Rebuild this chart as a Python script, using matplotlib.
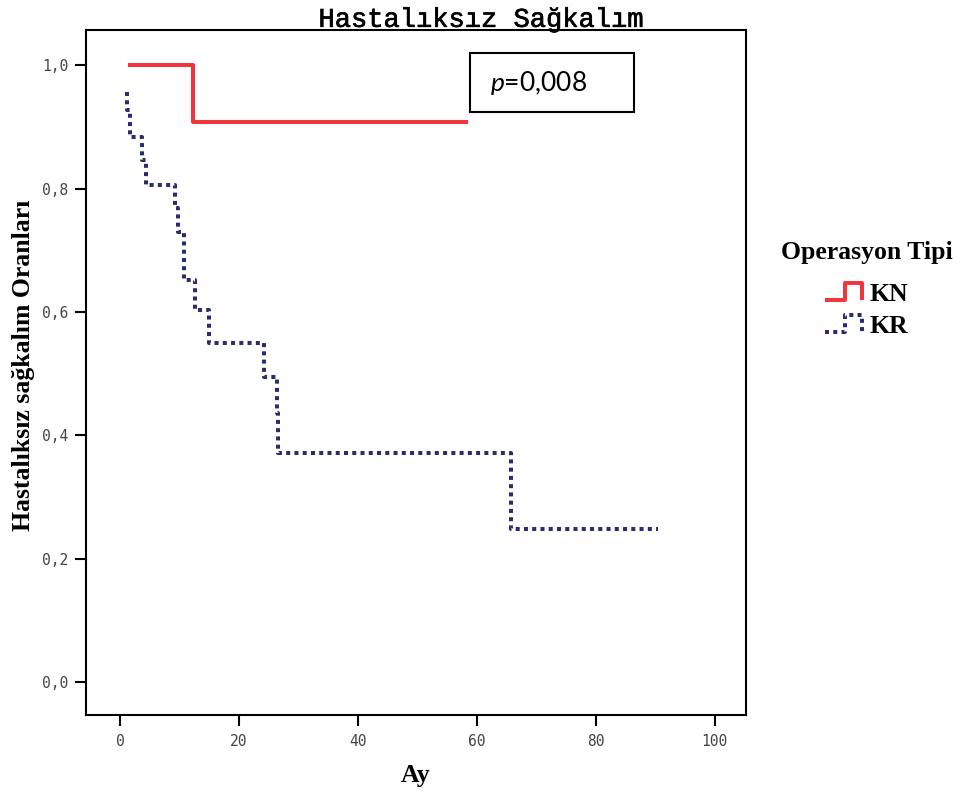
import matplotlib
matplotlib.use("Agg")
import matplotlib.pyplot as plt
import matplotlib.patheffects as pe
from matplotlib.lines import Line2D
from matplotlib.legend_handler import HandlerBase
from matplotlib.patches import Rectangle

# ---- data ----
kn_time = [1.35, 12.3, 58.5]
kn_surv = [1.0, 0.908, 0.908]

kr_time = [1.18, 1.18, 1.69, 3.66, 4.38, 9.27, 9.78, 10.79, 12.64, 15.0,
           24.15, 26.46, 26.6, 65.73, 90.5]
kr_surv = [0.957, 0.927, 0.884, 0.846, 0.806, 0.769, 0.730, 0.652, 0.603,
           0.549, 0.495, 0.436, 0.372, 0.248, 0.248]

xticks = [0, 20, 40, 60, 80, 100]
yticks = [0.0, 0.2, 0.4, 0.6, 0.8, 1.0]
ytick_labels = ["0,0", "0,2", "0,4", "0,6", "0,8", "1,0"]
series_labels = ["KN", "KR"]
p_text = "$p$=0,008"

RED = "#f1353e"
NAVY = "#2b2c6e"
SERIF = "Liberation Serif"
SERIF_SIZE = 18.5

plt.rcParams['mathtext.fontset'] = 'custom'
plt.rcParams['mathtext.it'] = 'Lato:italic'
plt.rcParams['mathtext.rm'] = 'Lato'

fig = plt.figure(figsize=(9.62, 7.94), dpi=100)
ax = fig.add_axes([0.0894, 0.0995, 0.6861, 0.8627])

l1, = ax.step(kn_time, kn_surv, where='post', color=RED, lw=2.9,
              solid_capstyle='butt', label=series_labels[0])
l2, = ax.step(kr_time, kr_surv, where='post', color=NAVY, lw=2.9,
              linestyle=(0, (1.0, 1.05)), dash_capstyle='butt',
              label=series_labels[1])

ax.set_xlim(-5.73, 105.3)
ax.set_ylim(-0.0535, 1.057)
ax.set_xticks(xticks)
ax.set_xticklabels([str(v) for v in xticks])
ax.set_yticks(yticks)
ax.set_yticklabels(ytick_labels)

for sp in ax.spines.values():
    sp.set_linewidth(1.5)
    sp.set_color("black")
ax.tick_params(direction='out', length=8, width=1.5, colors='black',
               labelcolor='#444444', labelsize=10.5)
ax.tick_params(axis='y', pad=5)
ax.tick_params(axis='x', pad=6)
for lab in ax.get_xticklabels() + ax.get_yticklabels():
    lab.set_fontfamily("DejaVu Sans Mono")

ax.set_xlabel("Ay", fontfamily=SERIF, fontweight='bold',
              fontsize=SERIF_SIZE, va='center')
ax.xaxis.set_label_coords(0.5, -0.0876)
ax.set_ylabel("Hastalıksız sağkalım Oranları", fontfamily=SERIF,
              fontweight='bold', fontsize=SERIF_SIZE, va='center')
ax.yaxis.set_label_coords(-0.094, 0.51)

fig.text(0.5, 0.975, "Hastalıksız Sağkalım", ha='center', va='center',
         fontfamily="Liberation Mono", fontweight='normal', fontsize=19.5,
         path_effects=[pe.withStroke(linewidth=0.45, foreground='black')])

# p-value box
ax.add_patch(Rectangle((58.8, 0.924), 86.5 - 58.8, 1.020 - 0.924,
                       fill=False, edgecolor='black', lw=1.5, clip_on=False))
ax.text(62.2, 0.971, p_text, fontfamily="Lato", fontsize=19,
        ha='left', va='center')


class StepHandler(HandlerBase):
    def create_artists(self, legend, orig_handle, xdescent, ydescent,
                       width, height, fontsize, trans):
        x0 = -xdescent
        y0 = -ydescent
        xs = [x0, x0 + 0.55 * width, x0 + 0.55 * width, x0 + width, x0 + width]
        ys = [y0, y0, y0 + height, y0 + height, y0]
        ln = Line2D(xs, ys)
        ln.update_from(orig_handle)
        ln.set_transform(trans)
        ln.set_clip_on(False)
        ln.set_clip_box(None)
        return [ln]


leg = ax.legend(handles=[l1, l2], labels=series_labels,
                handler_map={Line2D: StepHandler()},
                loc='center', bbox_to_anchor=(0.901, 0.636),
                bbox_transform=fig.transFigure, frameon=False,
                title="Operasyon Tipi",
                prop={'family': SERIF, 'weight': 'bold', 'size': SERIF_SIZE},
                title_fontproperties={'family': SERIF,
                                      'weight': 'bold', 'size': SERIF_SIZE},
                handlelength=1.45, handleheight=0.6, handletextpad=0.3,
                labelspacing=0.35, borderpad=0.2)
# larger gap between legend title and entries (as in the reference)
leg._legend_box.sep = 0.35 * SERIF_SIZE + 7.2

fig.savefig("out.png", dpi=100)
